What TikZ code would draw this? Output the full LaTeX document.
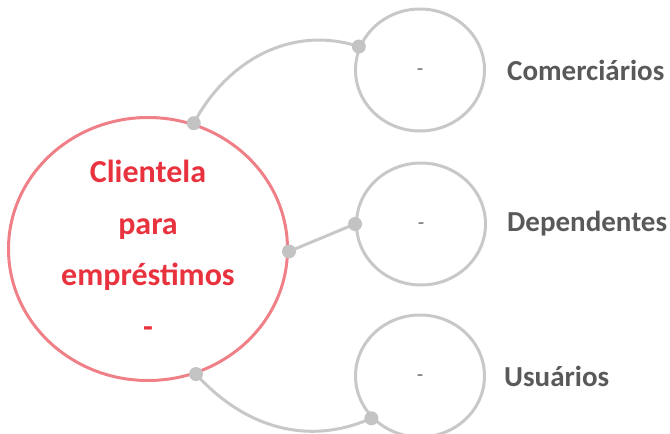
\documentclass[tikz,border=0pt]{standalone}
\usepackage{fontspec}
\setmainfont{Carlito}
\usepackage{tikz}
\usepackage{xcolor}
\usetikzlibrary{positioning, shapes.geometric}
\definecolor{hubred}{RGB}{240,128,136}
\definecolor{clientred}{RGB}{232,50,62}
\definecolor{linegray}{RGB}{200,200,200}
\definecolor{dotgray}{RGB}{195,195,195}
\definecolor{labelgray}{RGB}{89,89,89}
\definecolor{dashgray}{RGB}{110,110,110}

\begin{document}
\begin{tikzpicture}[
  x=1pt, y=1pt,
  node distance=20pt,
  hub/.style={ellipse, draw=hubred, line width=3pt, minimum width=279pt, minimum height=263pt,
              inner sep=0pt, align=center, text=clientred, font=\fontsize{32}{51.5}\selectfont\bfseries},
  leaf/.style={ellipse, draw=linegray, line width=3pt, minimum width=129pt, minimum height=122pt,
               inner sep=0pt, text=dashgray, font=\fontsize{21}{24}\selectfont},
  tag/.style={inner sep=0pt, font=\fontsize{29}{32}\selectfont\bfseries, text=labelgray},
  link/.style={draw=linegray, line width=3pt},
  knob/.style={circle, fill=dotgray, minimum size=14pt, inner sep=0pt}
]
\useasboundingbox (0,0) rectangle (670,-434);
\clip (0,0) rectangle (670,-434);

\node[hub] (hub) at (148,-249) {Clientela\\para\\empréstimos\\-};
\node[leaf] (com) at (420,-70)  {\raisebox{-5pt}[0pt][0pt]{-}};
\node[leaf] (dep) at (421,-224) {\raisebox{-5pt}[0pt][0pt]{-}};
\node[leaf] (usu) at (420,-376) {\raisebox{-5pt}[0pt][0pt]{-}};

\node[tag, right=21pt of com] (comtag) {Comerciários};
\node[tag, right=20pt of dep] (deptag) {Dependentes};
\node[tag, right=18pt of usu] (usutag) {Usuários};

\draw[link] (hub.70) to[out=62, in=162] (com.159);
\draw[link] (hub.-1) -- (dep.180);
\draw[link] (hub.-69) to[out=-48, in=-156] (usu.-139);

\node[knob] (hubcom) at (hub.70) {};
\node[knob] (hubdep) at (hub.-1) {};
\node[knob] (hubusu) at (hub.-69) {};
\node[knob] (comdot) at (com.159) {};
\node[knob] (depdot) at (dep.180) {};
\node[knob] (usudot) at (usu.-139) {};
\end{tikzpicture}
\end{document}
